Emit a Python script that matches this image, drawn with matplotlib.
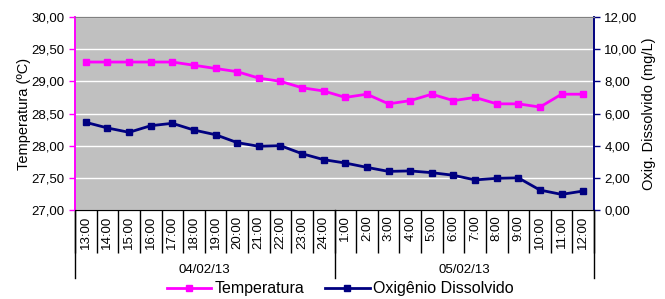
import matplotlib
matplotlib.use("Agg")
import matplotlib.pyplot as plt
from matplotlib.ticker import FuncFormatter, FixedLocator
import matplotlib.transforms as mtransforms

plt.rcParams['font.family'] = ['Liberation Sans', 'DejaVu Sans']

hours = ["13:00", "14:00", "15:00", "16:00", "17:00", "18:00", "19:00", "20:00",
         "21:00", "22:00", "23:00", "24:00", "1:00", "2:00", "3:00", "4:00",
         "5:00", "6:00", "7:00", "8:00", "9:00", "10:00", "11:00", "12:00"]
days = ["04/02/13", "05/02/13"]
hours_per_day = [12, 12]

temperatura = [29.30, 29.30, 29.30, 29.30, 29.30, 29.25, 29.20, 29.15, 29.05, 29.00,
               28.90, 28.85, 28.75, 28.80, 28.65, 28.70, 28.80, 28.70, 28.75, 28.65,
               28.65, 28.60, 28.80, 28.80]
oxigenio = [5.45, 5.10, 4.83, 5.24, 5.39, 4.97, 4.68, 4.19, 3.96, 4.00,
            3.50, 3.13, 2.92, 2.65, 2.40, 2.43, 2.32, 2.16, 1.87, 1.97,
            2.00, 1.24, 0.97, 1.18]

MAG = '#FF00FF'
NAVY = '#000080'

def comma(v, pos):
    return f"{v:.2f}".replace('.', ',')

fig = plt.figure(figsize=(6.65, 2.99), dpi=100)
ax = fig.add_axes([75/665, 1 - 210/299, (594-75)/665, (210-17)/299])
ax2 = ax.twinx()

x = list(range(len(hours)))
l1, = ax.plot(x, temperatura, color=MAG, marker='s', markersize=5, lw=2,
              label='Temperatura')
l2, = ax2.plot(x, oxigenio, color=NAVY, marker='s', markersize=5, lw=2,
               label='Oxigênio Dissolvido')

ax.set_facecolor('#C0C0C0')
ax.set_xlim(-0.5, len(hours) - 0.5)
ax.set_ylim(27, 30)
ax2.set_ylim(0, 12)
ax.set_yticks([27 + 0.5*i for i in range(7)])
ax2.set_yticks([2*i for i in range(7)])
ax.yaxis.set_major_formatter(FuncFormatter(comma))
ax2.yaxis.set_major_formatter(FuncFormatter(comma))
ax.yaxis.grid(True, color='white', lw=1)
ax.set_axisbelow(True)

ax.tick_params(axis='y', colors=MAG, labelcolor='black', labelsize=9.5, length=4, width=1)
ax2.tick_params(axis='y', colors=NAVY, labelcolor='black', labelsize=9.5, length=4, width=1)

for a in (ax, ax2):
    a.spines['top'].set_color('#808080')
    a.spines['bottom'].set_color('black')
    a.spines['left'].set_color(MAG)
    a.spines['right'].set_color(NAVY)
    a.spines['left'].set_linewidth(1.2)
    a.spines['right'].set_linewidth(1.2)

# category labels centred, separators at boundaries
ax.xaxis.set_major_locator(FixedLocator([i - 0.5 for i in range(len(hours) + 1)]))
ax.xaxis.set_major_formatter(FuncFormatter(lambda v, p: ''))
ax.xaxis.set_minor_locator(FixedLocator(x))
ax.set_xticklabels(hours, minor=True, rotation=90, fontsize=9.5)
ax.tick_params(axis='x', which='major', length=31, width=1, color='black')
ax.tick_params(axis='x', which='minor', length=0, pad=4)

trans = mtransforms.blended_transform_factory(ax.transData, ax.transAxes)
bounds = [-0.5]
for n in hours_per_day:
    bounds.append(bounds[-1] + n)
for b in bounds:
    ax.plot([b, b], [0, -68/193], color='black', lw=1, transform=trans, clip_on=False)
for i, d in enumerate(days):
    ax.text((bounds[i] + bounds[i+1]) / 2, -60/193, d, transform=trans,
            ha='center', va='center', fontsize=9.5)

ax.set_ylabel('Temperatura (ºC)', fontsize=10.5, labelpad=0)
ax2.set_ylabel('Oxig. Dissolvido (mg/L)', fontsize=10.5, labelpad=3)

fig.legend([l1, l2], ['Temperatura', 'Oxigênio Dissolvido'], loc='center',
           bbox_to_anchor=(340/665, 1 - 289/299), ncol=2, frameon=False,
           fontsize=11.5, handlelength=2.8, handletextpad=0.2, columnspacing=1.3,
           borderpad=0)

fig.savefig('out.png', dpi=100)
